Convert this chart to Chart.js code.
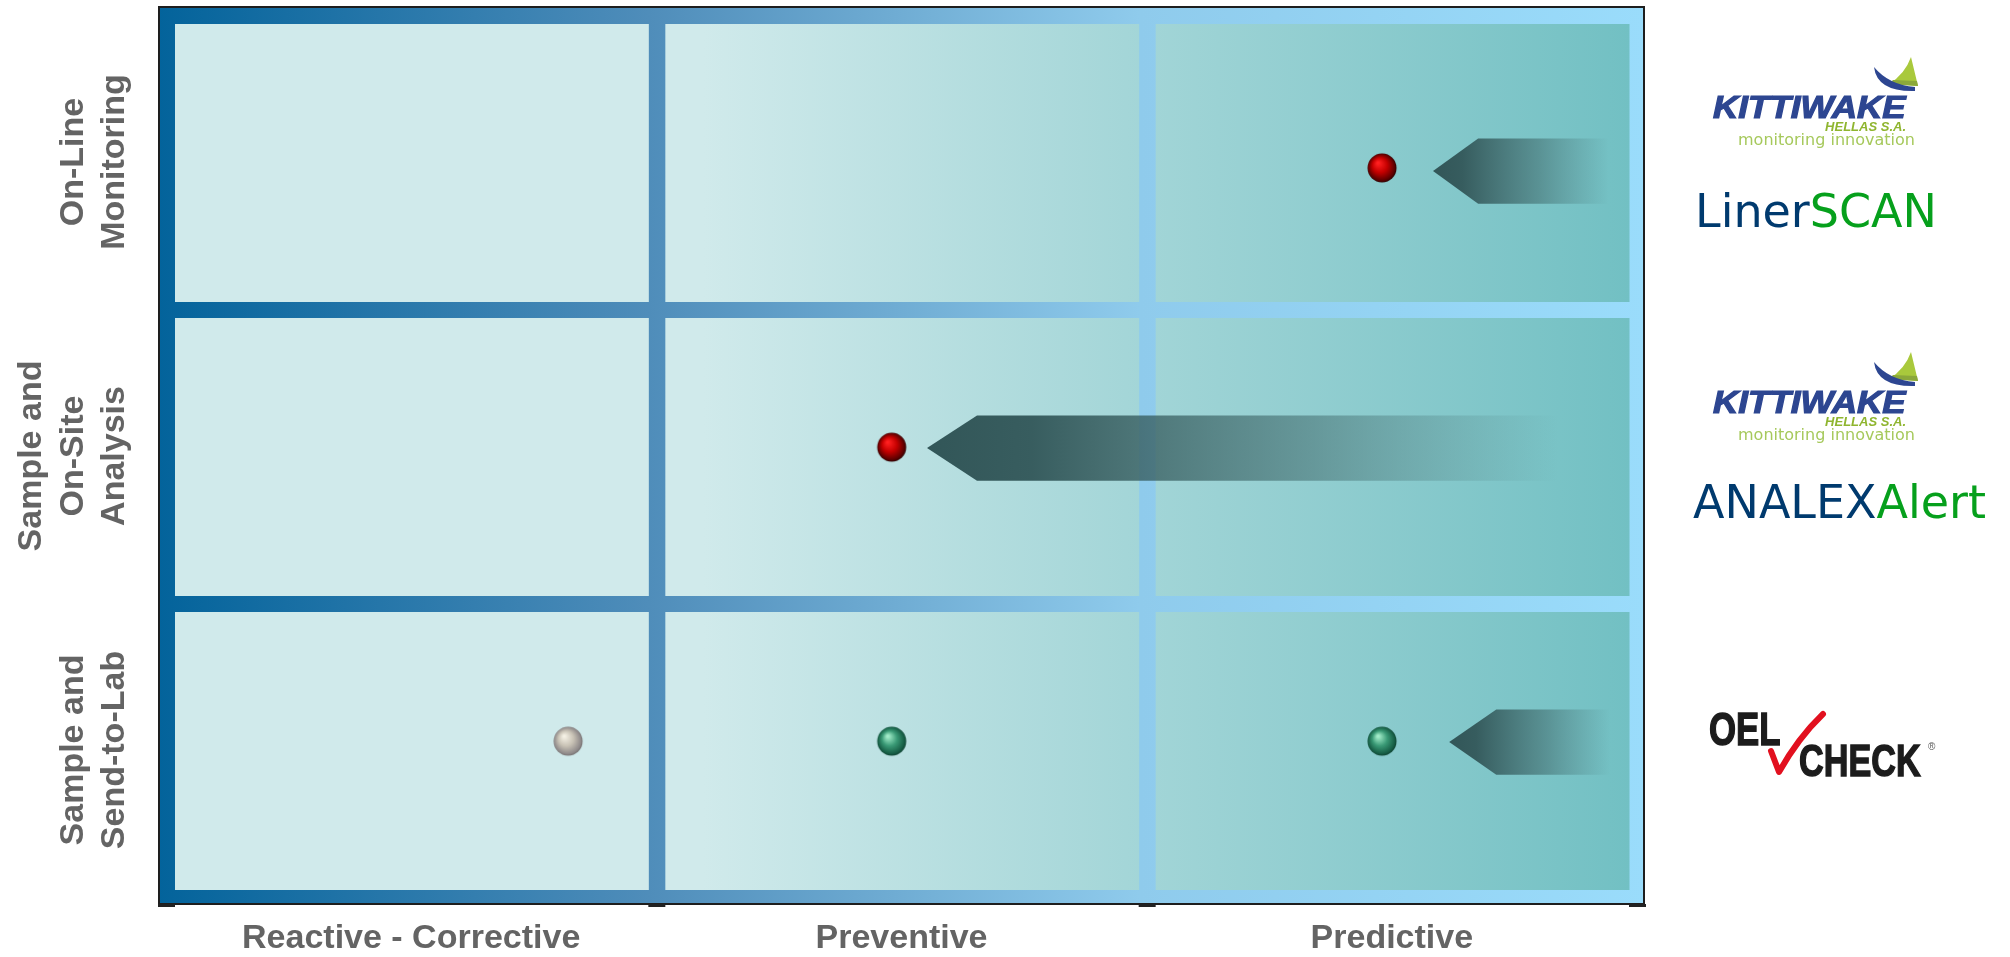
<!DOCTYPE html>
<html>
<head>
<meta charset="utf-8">
<script src="https://cdn.jsdelivr.net/npm/chart.js@4.4.1/dist/chart.umd.min.js"></script>
<style>
html,body{margin:0;padding:0;background:#fff;}
canvas{display:block;}
</style>
</head>
<body>
<canvas id="c" width="2010" height="957" style="width:2010px;height:957px"></canvas>
<script>
// ---------- data ----------
const columns = ["Reactive - Corrective", "Preventive", "Predictive"];
const rowLabels = [["On-Line", "Monitoring"], ["Sample and", "On-Site", "Analysis"], ["Sample and", "Send-to-Lab"]];

// markers (x in column units 0..3, y in row units 0..3 from top)
const redX = [2.48, 1.48];
const redY = [0.52, 1.47];
const greyX = [0.82];
const greyY = [2.47];
const greenX = [1.48, 2.48];
const greenY = [2.47, 2.47];

// arrows: tip, start of body, end, centre row value, half height
const arrowTipX = [2.584, 1.552, 2.617];
const arrowBodyX = [2.676, 1.654, 2.713];
const arrowEndX = [2.982, 2.982, 2.982];
const arrowY = [0.531, 1.473, 2.473];
const arrowHalf = [0.111, 0.111, 0.111];

// ---------- sprites ----------
function sphere(c0, c1, c2, c3) {
  const s = 32, cv = document.createElement('canvas');
  cv.width = s; cv.height = s;
  const g = cv.getContext('2d');
  const gr = g.createRadialGradient(12, 11, 1, 16, 16, 15.5);
  gr.addColorStop(0, c0); gr.addColorStop(0.45, c1); gr.addColorStop(0.85, c2); gr.addColorStop(1, c3);
  g.fillStyle = gr;
  g.beginPath(); g.arc(16, 16, 14.5, 0, Math.PI * 2); g.fill();
  return cv;
}
const redSprite = sphere('#ff2020', '#c40000', '#5a0000', '#140000');
const greySprite = sphere('#f4f0e4', '#c9c3b6', '#8f8a8a', '#6a6666');
const greenSprite = sphere('#a2ecc9', '#3a9a76', '#165c44', '#0b372a');

// ---------- background plugin ----------
const gridPlugin = {
  id: 'grid',
  beforeDatasetsDraw(chart) {
    const ctx = chart.ctx, xs = chart.scales.x, ys = chart.scales.y;
    const X = v => xs.getPixelForValue(v), Y = v => ys.getPixelForValue(v);
    const fl = X(0) - 8, fr = X(3) + 8, ft = Y(0) - 9, fb = Y(3) + 8;
    ctx.save();
    const fg = ctx.createLinearGradient(fl, 0, fr, 0);
    fg.addColorStop(0, '#03639b');
    fg.addColorStop(0.33, '#4f8dba');
    fg.addColorStop(0.66, '#8fcbec');
    fg.addColorStop(1, '#9adcfb');
    ctx.fillStyle = fg;
    ctx.fillRect(fl, ft, fr - fl, fb - ft);
    const cg = ctx.createLinearGradient(X(1) + 9, 0, X(3) - 7.5, 0);
    cg.addColorStop(0, '#d0eaeb');
    cg.addColorStop(0.04, '#d0eaeb');
    cg.addColorStop(0.5, '#a2d5d7');
    cg.addColorStop(1, '#72c0c3');
    for (let c = 0; c < 3; c++) {
      for (let r = 0; r < 3; r++) {
        const x0 = X(c) + 9, x1 = X(c + 1) - 7.5;
        const y0 = Y(r) + 9, y1 = Y(r + 1) - 7;
        ctx.fillStyle = c === 0 ? '#d0eaeb' : cg;
        ctx.fillRect(x0, y0, x1 - x0, y1 - y0);
      }
    }
    ctx.strokeStyle = '#1e1e1e';
    ctx.lineWidth = 2;
    ctx.strokeRect(fl + 1, ft + 1, fr - fl - 2, fb - ft - 2);
    ctx.fillStyle = '#222';
    [X(0) - 8, X(1) - 8, X(2) - 8, X(3) - 8].forEach(px => ctx.fillRect(px, fb - 1, 17, 3));
    for (let i = 0; i < arrowTipX.length; i++) {
      const tx = X(arrowTipX[i]), bx = X(arrowBodyX[i]), ex = X(arrowEndX[i]);
      const cy = Y(arrowY[i]), top = Y(arrowY[i] - arrowHalf[i]), bot = Y(arrowY[i] + arrowHalf[i]);
      const ag = ctx.createLinearGradient(tx, 0, ex, 0);
      ag.addColorStop(0, 'rgba(50,86,88,1)');
      ag.addColorStop(0.15, 'rgba(52,89,91,0.97)');
      ag.addColorStop(0.55, 'rgba(58,98,100,0.5)');
      ag.addColorStop(0.9, 'rgba(64,106,108,0)');
      ag.addColorStop(1, 'rgba(64,106,108,0)');
      ctx.fillStyle = ag;
      ctx.beginPath();
      ctx.moveTo(tx, cy);
      ctx.lineTo(bx, top);
      ctx.lineTo(ex, top);
      ctx.lineTo(ex, bot);
      ctx.lineTo(bx, bot);
      ctx.closePath();
      ctx.fill();
    }
    ctx.restore();
  },
  afterDraw(chart) {
    const ctx = chart.ctx, xs = chart.scales.x, ys = chart.scales.y;
    ctx.save();
    ctx.fillStyle = '#646464';
    ctx.font = 'bold 34px "Liberation Sans", Arial, sans-serif';
    ctx.textAlign = 'center';
    ctx.textBaseline = 'alphabetic';
    columns.forEach((lab, i) => ctx.fillText(lab, xs.getPixelForValue(i + 0.5), 948));
    rowLabels.forEach((lines, r) => {
      const cy = ys.getPixelForValue(r + 0.5);
      ctx.save();
      ctx.translate(0, cy);
      ctx.rotate(-Math.PI / 2);
      const n = lines.length;
      lines.forEach((ln, k) => ctx.fillText(ln, 0, 124 - (n - 1 - k) * 41.5));
      ctx.restore();
    });
    ctx.restore();

    function kittiwake(dy) {
      ctx.save();
      ctx.fillStyle = '#a9c93c';
      ctx.beginPath();
      ctx.moveTo(1911, 57 + dy);
      ctx.lineTo(1918, 86 + dy);
      ctx.lineTo(1889, 84 + dy);
      ctx.quadraticCurveTo(1905, 74 + dy, 1911, 57 + dy);
      ctx.fill();
      ctx.fillStyle = '#8ba83a';
      ctx.beginPath();
      ctx.moveTo(1893, 80 + dy); ctx.lineTo(1917, 81 + dy); ctx.lineTo(1918, 86 + dy); ctx.lineTo(1889, 84 + dy);
      ctx.fill();
      ctx.fillStyle = '#2d4691';
      ctx.beginPath();
      ctx.moveTo(1874, 67 + dy);
      ctx.quadraticCurveTo(1877, 92 + dy, 1915, 91 + dy);
      ctx.lineTo(1915, 87 + dy);
      ctx.quadraticCurveTo(1889, 85 + dy, 1874, 67 + dy);
      ctx.fill();
      ctx.save();
      ctx.translate(1713, 118 + dy);
      ctx.scale(1.13, 1);
      ctx.font = 'italic bold 31px "Liberation Sans", Arial, sans-serif';
      ctx.textAlign = 'left';
      ctx.strokeStyle = '#2d4691';
      ctx.lineWidth = 1.2;
      ctx.fillText('KITTIWAKE', 0, 0);
      ctx.strokeText('KITTIWAKE', 0, 0);
      ctx.restore();
      ctx.fillStyle = '#8fb52f';
      ctx.font = 'italic bold 13px "Liberation Sans", Arial, sans-serif';
      ctx.textAlign = 'right';
      ctx.fillText('HELLAS S.A.', 1906, 131 + dy);
      ctx.fillStyle = '#a6c95c';
      ctx.font = '16px "DejaVu Sans", Verdana, sans-serif';
      ctx.textAlign = 'left';
      ctx.fillText('monitoring innovation', 1738, 145 + dy);
      ctx.restore();
    }
    function twoTone(a, b, x, y) {
      ctx.save();
      ctx.font = '46px "DejaVu Sans", Verdana, sans-serif';
      ctx.textAlign = 'left';
      ctx.fillStyle = '#003a6e';
      ctx.fillText(a, x, y);
      const w = ctx.measureText(a).width;
      ctx.fillStyle = '#06a01c';
      ctx.fillText(b, x + w, y);
      ctx.restore();
    }
    kittiwake(0);
    twoTone('Liner', 'SCAN', 1695, 227);
    kittiwake(295);
    twoTone('ANALEX', 'Alert', 1693, 518);

    ctx.save();
    ctx.fillStyle = '#1c1c1c';
    ctx.strokeStyle = '#1c1c1c';
    ctx.lineWidth = 1.5;
    ctx.textAlign = 'left';
    ctx.font = 'bold 47px "Liberation Sans", Arial, sans-serif';
    ctx.save(); ctx.translate(1709, 745); ctx.scale(0.74, 1); ctx.fillText('OEL', 0, 0); ctx.strokeText('OEL', 0, 0); ctx.restore();
    ctx.save(); ctx.translate(1799, 776); ctx.scale(0.76, 1); ctx.font = 'bold 45px "Liberation Sans", Arial, sans-serif'; ctx.fillText('CHECK', 0, 0); ctx.strokeText('CHECK', 0, 0); ctx.restore();
    ctx.font = '10px "Liberation Sans", Arial, sans-serif';
    ctx.fillStyle = '#555';
    ctx.fillText('®', 1928, 750);
    ctx.strokeStyle = '#e2101f';
    ctx.lineCap = 'round';
    ctx.lineJoin = 'round';
    ctx.lineWidth = 6;
    ctx.beginPath();
    ctx.moveTo(1771, 751);
    ctx.lineTo(1779, 772);
    ctx.quadraticCurveTo(1798, 738, 1823, 714);
    ctx.stroke();
    ctx.restore();
  }
};

const pts = (xs, ys) => xs.map((x, i) => ({ x, y: ys[i] }));

new Chart(document.getElementById('c'), {
  type: 'scatter',
  data: {
    datasets: [
      { label: 'red', data: pts(redX, redY), pointStyle: redSprite, pointRadius: 14 },
      { label: 'grey', data: pts(greyX, greyY), pointStyle: greySprite, pointRadius: 14 },
      { label: 'green', data: pts(greenX, greenY), pointStyle: greenSprite, pointRadius: 14 }
    ]
  },
  options: {
    responsive: false,
    animation: false,
    events: [],
    layout: { padding: { left: 166, right: 373, top: 15, bottom: 60 } },
    scales: {
      x: { type: 'linear', min: 0, max: 3, display: false },
      y: { type: 'linear', min: 0, max: 3, reverse: true, display: false }
    },
    plugins: { legend: { display: false }, tooltip: { enabled: false } }
  },
  plugins: [gridPlugin]
});
</script>
</body>
</html>
